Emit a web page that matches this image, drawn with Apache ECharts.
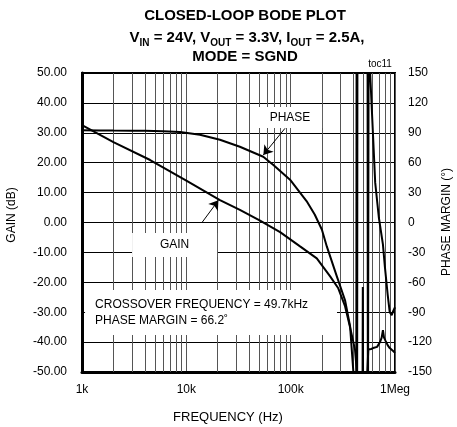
<!DOCTYPE html>
<html>
<head>
<meta charset="utf-8">
<script src="https://cdn.jsdelivr.net/npm/echarts@6/dist/echarts.min.js"></script>
<style>
  html, body { margin: 0; padding: 0; background: #fff; }
  #bode { width: 457px; height: 427px; }
</style>
</head>
<body>
<div id="bode"></div>
<script>
"use strict";
// frequency axis (Hz)
const freqLabels = { 1000: "1k", 10000: "10k", 100000: "100k", 1000000: "1Meg" };
const minorFreqs = [
  2000, 3000, 4000, 5000, 6000, 7000, 8000, 9000,
  20000, 30000, 40000, 50000, 60000, 70000, 80000, 90000,
  200000, 300000, 400000, 500000, 600000, 700000, 800000, 900000
];

// gain in dB
const gainDb = [
  [1000, 32.6], [2000, 26.9], [4500, 20.9], [10000, 14], [21000, 7.5],
  [32600, 4.2], [50900, 0.6], [79200, -3.2], [123000, -8], [178000, -12],
  [239000, -18], [286000, -22], [332000, -28], [371000, -35], [414000, -42.6],
  [431000, -50], [440000, -62], [488000, -62], [491500, -21.6], [495000, -62],
  [530000, -58], [555000, -42.5], [590000, -42.3], [618000, -42], [674000, -41.6],
  [718000, -40], [745000, -38.5], [766000, -36], [785000, -38.5], [810000, -39.5],
  [850000, -41], [890000, -42], [930000, -42.3], [960000, -43], [1000000, -43.6]
];

// phase in degrees (right axis)
const phaseDeg = [
  [1000, 92.5], [1500, 92.3], [2000, 92.2], [3000, 92.1], [4000, 92], [6000, 91.5],
  [8700, 90.8], [13500, 88], [21000, 83], [32600, 76], [54600, 66], [68300, 57.7],
  [98600, 43], [142000, 21.5], [170000, 8], [199000, -7], [222000, -24],
  [277000, -54], [332000, -78], [371000, -104], [399000, -150],
  [425000, -260], [429000, 260], [433000, -260], [437000, 260],
  [545000, 260], [550000, -260], [555000, -260], [560000, 260],
  [578000, 150], [646000, 40], [700000, 5], [766000, -22], [801000, -45],
  [850000, -72], [890000, -90], [930000, -93], [960000, -89], [1000000, -85]
];

const FONT = "'Liberation Sans', Arial, sans-serif";

var chart = echarts.init(document.getElementById("bode"));
chart.setOption({
  animation: false,
  backgroundColor: "#fff",
  textStyle: { fontFamily: FONT, color: "#000" },
  grid: {
    left: 82, right: 62, top: 73, bottom: 55,
    show: true, borderColor: "#000", borderWidth: 2, backgroundColor: "transparent"
  },
  xAxis: {
    type: "log",
    logBase: 10,
    min: 1000,
    max: 1000000,
    axisLine: { show: true, onZero: false, lineStyle: { color: "#000", width: 3 } },
    axisTick: { show: false },
    axisLabel: {
      margin: 12, fontSize: 12, color: "#000", fontFamily: FONT,
      formatter: (v) => freqLabels[Math.round(v)] || ""
    },
    splitLine: { show: true, lineStyle: { color: "#555", width: 1 } }
  },
  yAxis: [
    {
      type: "value",
      min: -50, max: 50, interval: 10,
      axisLine: { show: true, onZero: false, lineStyle: { color: "#000", width: 3 } },
      axisTick: { show: false },
      axisLabel: {
        margin: 15, fontSize: 12, color: "#000", fontFamily: FONT,
        formatter: (v) => v.toFixed(2)
      },
      splitLine: { show: true, lineStyle: { color: "#000", width: 1 } }
    },
    {
      type: "value",
      min: -150, max: 150, interval: 30,
      axisLine: { show: false },
      axisTick: { show: false },
      axisLabel: { margin: 13, fontSize: 12, color: "#000", fontFamily: FONT },
      splitLine: { show: false }
    }
  ],
  series: [
    {
      name: "GAIN",
      type: "line",
      yAxisIndex: 0,
      data: gainDb,
      symbol: "none",
      clip: true,
      z: 5,
      lineStyle: { color: "#000", width: 2 },
      markLine: {
        z: 6,
        silent: true,
        symbol: ["none", "arrow"],
        symbolSize: 9,
        label: { show: false },
        lineStyle: { color: "#000", width: 1, type: "solid" },
        data: [
          // GAIN label -> gain curve
          [{ coord: [14200, 0.1] }, { coord: [20300, 7.4] }],
          // PHASE label -> phase curve (dB units of the left axis)
          [{ coord: [88300, 31.5] }, { coord: [54700, 22.6] }]
        ]
      }
    },
    {
      name: "PHASE",
      type: "line",
      yAxisIndex: 1,
      data: phaseDeg,
      symbol: "none",
      clip: true,
      z: 5,
      lineStyle: { color: "#000", width: 2 },
      markLine: {
        z: 1,
        silent: true,
        symbol: "none",
        label: { show: false },
        lineStyle: { color: "#555", width: 1, type: "solid" },
        data: minorFreqs.map((f) => ({ xAxis: f }))
      },
      markArea: {
        z: 3,
        silent: true,
        itemStyle: { color: "#fff" },
        label: { show: true, position: "inside", color: "#000", fontSize: 12, fontFamily: FONT },
        data: [
          [{ name: "PHASE", coord: [48600, 115.9] }, { coord: [200000, 94.8] }],
          [{ name: "GAIN", coord: [3020, -10.5] }, { coord: [19700, -34.6] }],
          [
            {
              name: "CROSSOVER FREQUENCY = 49.7kHz\nPHASE MARGIN = 66.2˚",
              coord: [1070, -67.7],
              label: { position: "insideLeft", distance: 10, lineHeight: 16, padding: [4, 0, 0, 0] }
            },
            { coord: [278000, -112.8] }
          ]
        ]
      }
    }
  ],
  graphic: [
    {
      type: "text", x: 245, y: 16, z: 10,
      style: {
        text: "CLOSED-LOOP BODE PLOT", fill: "#000",
        fontFamily: FONT, fontSize: 15, fontWeight: "bold",
        align: "center", verticalAlign: "middle"
      }
    },
    {
      type: "text", x: 247, y: 38, z: 10,
      style: {
        text: "V{s|IN} = 24V, V{s|OUT} = 3.3V, I{s|OUT} = 2.5A,", fill: "#000",
        fontFamily: FONT, fontSize: 15, fontWeight: "bold", lineHeight: 20,
        align: "center", verticalAlign: "middle",
        rich: { s: { fontFamily: FONT, fontSize: 10, fontWeight: "bold", lineHeight: 12, verticalAlign: "bottom" } }
      }
    },
    {
      type: "text", x: 245, y: 57, z: 10,
      style: {
        text: "MODE = SGND", fill: "#000",
        fontFamily: FONT, fontSize: 15, fontWeight: "bold",
        align: "center", verticalAlign: "middle"
      }
    },
    {
      type: "text", x: 380, y: 64, z: 10,
      style: { text: "toc11", fill: "#000", fontFamily: FONT, fontSize: 10, align: "center", verticalAlign: "middle" }
    },
    {
      type: "text", x: 12, y: 215, rotation: Math.PI / 2, z: 10,
      style: { text: "GAIN (dB)", fill: "#000", fontFamily: FONT, fontSize: 12, align: "center", verticalAlign: "middle" }
    },
    {
      type: "text", x: 447, y: 222, rotation: Math.PI / 2, z: 10,
      style: { text: "PHASE MARGIN (°)", fill: "#000", fontFamily: FONT, fontSize: 12, align: "center", verticalAlign: "middle" }
    },
    {
      type: "text", x: 228, y: 417, z: 10,
      style: { text: "FREQUENCY (Hz)", fill: "#000", fontFamily: FONT, fontSize: 13, align: "center", verticalAlign: "middle" }
    }
  ]
});
</script>
</body>
</html>
